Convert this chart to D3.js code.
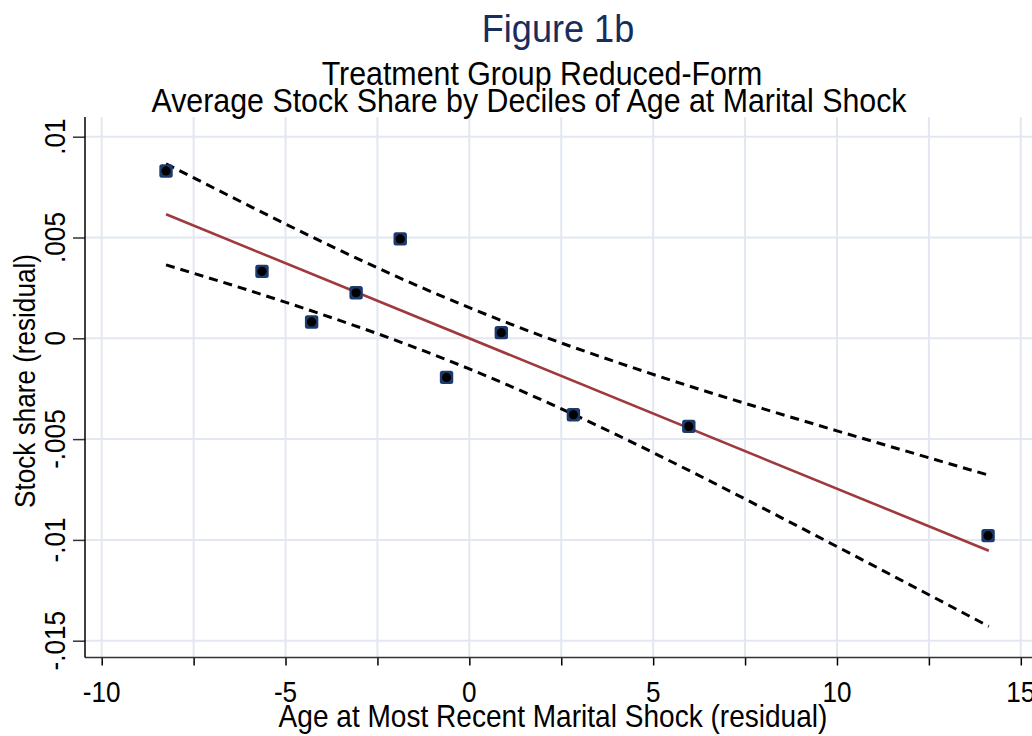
<!DOCTYPE html>
<html>
<head>
<meta charset="utf-8">
<script src="https://cdn.jsdelivr.net/npm/d3@7/dist/d3.min.js"></script>
<style>
  html, body { margin: 0; padding: 0; background: #fff; }
  svg { display: block; }
  text { font-family: "Liberation Sans", Arial, sans-serif; }
</style>
</head>
<body>
<svg id="chart" width="1032" height="736"></svg>
<script>
// ---- data ----
const binX = [-8.25, -5.64, -4.29, -3.08, -1.88, -0.62, 0.87, 2.83, 5.97, 14.11];
const binY = [0.0083, 0.00332, 0.00081, 0.00226, 0.00493, -0.00194, 0.00028, -0.00379, -0.00437, -0.00979];

const fitX = [-8.25, 14.13];
const fitY = [0.00615, -0.01054];

const ciX     = [-8.25, -6, -4, -2, 0, 2, 4, 6, 8, 10, 12, 14.13];
const ciUpper = [0.00866, 0.00658, 0.00478, 0.00308, 0.00152, 0.00010, -0.00118, -0.00238, -0.00350, -0.00459, -0.00566, -0.00679];
const ciLower = [0.00364, 0.00238, 0.00118, -0.00010, -0.00152, -0.00308, -0.00478, -0.00658, -0.00844, -0.01033, -0.01224, -0.01429];

const xTicks = [-10, -5, 0, 5, 10, 15];
const xMinorTicks = [-7.5, -2.5, 2.5, 7.5, 12.5];
const yTicks = [0.01, 0.005, 0, -0.005, -0.01, -0.015];
const yTickLabels = [".01", ".005", "0", "-.005", "-.01", "-.015"];

const titleText = "Figure 1b";
const subtitleLines = ["Treatment Group Reduced-Form", "Average Stock Share by Deciles of Age at Marital Shock"];
const xTitle = "Age at Most Recent Marital Shock (residual)";
const yTitle = "Stock share (residual)";

// ---- layout ----
const W = 1032, H = 736;
const plotLeft = 85, plotRight = 1032, plotTop = 117, plotBottom = 657.5;

const x = d3.scaleLinear().domain([-10, 15]).range([101.7, 1020.8]);
const y = d3.scaleLinear().domain([-0.015, 0.01]).range([640.7, 136.7]);

const svg = d3.select("#chart");
svg.append("rect").attr("width", W).attr("height", H).attr("fill", "#fff");

const gridColor = "#e2e7f1";

// grid lines
const grid = svg.append("g");
grid.selectAll("line.v").data(xTicks.concat(xMinorTicks)).join("line")
  .attr("x1", d => x(d)).attr("x2", d => x(d))
  .attr("y1", plotTop).attr("y2", plotBottom)
  .attr("stroke", gridColor).attr("stroke-width", 2);
grid.selectAll("line.h").data(yTicks).join("line")
  .attr("x1", plotLeft).attr("x2", plotRight)
  .attr("y1", d => y(d)).attr("y2", d => y(d))
  .attr("stroke", gridColor).attr("stroke-width", 2);

// axes
const xAxis = d3.axisBottom(x).tickValues(xTicks.concat(xMinorTicks)).tickSize(8).tickFormat("");
const gx = svg.append("g").attr("transform", `translate(0,${plotBottom})`).call(xAxis);
gx.select(".domain").remove();
gx.selectAll(".tick line").attr("stroke", "#000").attr("stroke-width", 1.5);
gx.selectAll(".tick text").remove();
svg.append("line").attr("x1", plotLeft).attr("x2", plotRight).attr("y1", plotBottom).attr("y2", plotBottom)
  .attr("stroke", "#333").attr("stroke-width", 1.5);

const tickFont = 30, tickSX = 0.87;
svg.selectAll("text.xt").data(xTicks).join("text")
  .attr("class", "xt")
  .attr("transform", d => `translate(${x(d)},702) scale(${tickSX},1)`)
  .attr("text-anchor", "middle").attr("font-size", tickFont).attr("fill", "#000")
  .text(d => d3.format("d")(d).replace("−", "-"));

const yAxis = d3.axisLeft(y).tickValues(yTicks).tickSize(12).tickFormat("");
const gy = svg.append("g").attr("transform", `translate(${plotLeft},0)`).call(yAxis);
gy.select(".domain").remove();
gy.selectAll(".tick line").attr("stroke", "#333").attr("stroke-width", 1.5);
svg.append("line").attr("x1", plotLeft).attr("x2", plotLeft).attr("y1", plotTop).attr("y2", plotBottom)
  .attr("stroke", "#000").attr("stroke-width", 1.5);

svg.selectAll("text.yt").data(yTicks).join("text")
  .attr("class", "yt")
  .attr("transform", (d) => `translate(65,${y(d)}) rotate(-90) scale(${tickSX},1)`)
  .attr("text-anchor", "middle").attr("font-size", tickFont).attr("fill", "#000")
  .text((d, i) => yTickLabels[i]);

// CI dashed lines
const ciLine = (arr) => d3.line().x((d, i) => x(ciX[i])).y(d => y(d)).curve(d3.curveMonotoneX)(arr);
[ciUpper, ciLower].forEach(arr => {
  svg.append("path").attr("d", ciLine(arr))
    .attr("fill", "none").attr("stroke", "#000").attr("stroke-width", 3)
    .attr("stroke-dasharray", "9,6");
});

// fit line
svg.append("path")
  .attr("d", d3.line().x((d, i) => x(fitX[i])).y(d => y(d))(fitY))
  .attr("fill", "none").attr("stroke", "#9e3a3e").attr("stroke-width", 2.6);

// points: navy square with black dot
const pts = binX.map((v, i) => ({ x: v, y: binY[i] }));
svg.selectAll("rect.pt").data(pts).join("rect")
  .attr("class", "pt")
  .attr("x", d => x(d.x) - 6.7).attr("y", d => y(d.y) - 6.7)
  .attr("width", 13.4).attr("height", 13.4).attr("rx", 2.5)
  .attr("fill", "#1c3a6b");
svg.selectAll("circle.pt").data(pts).join("circle")
  .attr("class", "pt")
  .attr("cx", d => x(d.x)).attr("cy", d => y(d.y)).attr("r", 4.6)
  .attr("fill", "#000");

// titles
svg.append("text").attr("transform", "translate(558,42) scale(0.95,1)").attr("text-anchor", "middle")
  .attr("font-size", 38).attr("fill", "#1a2c5b").text(titleText);
svg.append("text").attr("transform", "translate(542,85) scale(0.92,1)").attr("text-anchor", "middle")
  .attr("font-size", 33).attr("fill", "#000").text(subtitleLines[0]);
svg.append("text").attr("transform", "translate(529,112) scale(0.92,1)").attr("text-anchor", "middle")
  .attr("font-size", 33).attr("fill", "#000").text(subtitleLines[1]);

svg.append("text").attr("transform", "translate(553,727) scale(0.92,1)").attr("text-anchor", "middle")
  .attr("font-size", 30.5).attr("fill", "#000").text(xTitle);
svg.append("text").attr("transform", "translate(35,381) rotate(-90) scale(0.9,1)").attr("text-anchor", "middle")
  .attr("font-size", 29).attr("fill", "#000").text(yTitle);
</script>
</body>
</html>
